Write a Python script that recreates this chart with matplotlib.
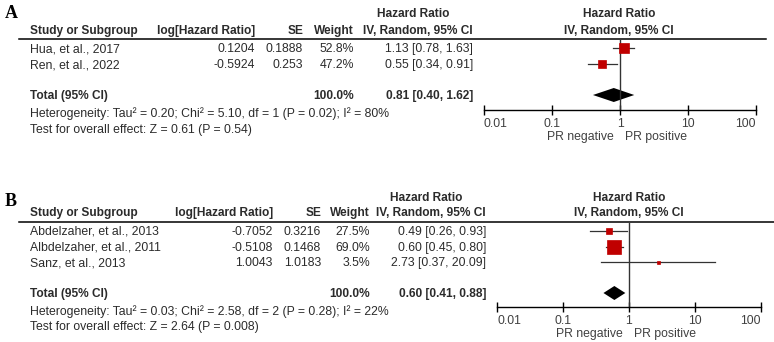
import numpy as np
import matplotlib
matplotlib.use('Agg')
import matplotlib.pyplot as plt

plt.rcParams['font.family'] = ['Liberation Sans', 'DejaVu Sans']

# panel A data
a_study = ['Hua, et al., 2017', 'Ren, et al., 2022']
a_loghr = ['0.1204', '-0.5924']
a_se = ['0.1888', '0.253']
a_weight = [52.8, 47.2]
a_hr = [1.13, 0.55]
a_lo = [0.78, 0.34]
a_hi = [1.63, 0.91]
a_total = [0.81, 0.40, 1.62]
a_het = 'Heterogeneity: Tau\u00b2 = 0.20; Chi\u00b2 = 5.10, df = 1 (P = 0.02); I\u00b2 = 80%'
a_test = 'Test for overall effect: Z = 0.61 (P = 0.54)'

# panel B data
b_study = ['Abdelzaher, et al., 2013', 'Albdelzaher, et al., 2011', 'Sanz, et al., 2013']
b_loghr = ['-0.7052', '-0.5108', '1.0043']
b_se = ['0.3216', '0.1468', '1.0183']
b_weight = [27.5, 69.0, 3.5]
b_hr = [0.49, 0.60, 2.73]
b_lo = [0.26, 0.45, 0.37]
b_hi = [0.93, 0.80, 20.09]
b_total = [0.60, 0.41, 0.88]
b_het = 'Heterogeneity: Tau\u00b2 = 0.03; Chi\u00b2 = 2.58, df = 2 (P = 0.28); I\u00b2 = 22%'
b_test = 'Test for overall effect: Z = 2.64 (P = 0.008)'

ticks = [0.01, 0.1, 1, 10, 100]
tick_labels = ['0.01', '0.1', '1', '10', '100']

W, H = 774, 342
fig = plt.figure(figsize=(W/100, H/100), dpi=100)
bg = fig.add_axes([0, 0, 1, 1])
bg.set_xlim(0, W)
bg.set_ylim(H, 0)
bg.axis('off')

TXT = '#2b2b2b'
FS = 8.85   # regular text
FB = 8.6    # bold headers


def panel(letter, L, study, loghr, se, weight, hr, lo, hi, total, het, test, size_k):
    # letter
    bg.text(5, L['letter'], letter, fontsize=13, fontweight='bold',
            family='Liberation Serif', va='center', ha='left', color='black')
    # headers
    bg.text(L['ci'] - 60, L['h1'], 'Hazard Ratio', ha='center', va='center',
            fontsize=FB, fontweight='bold', color=TXT)
    bg.text(L['fc'], L['h1'], 'Hazard Ratio', ha='center', va='center',
            fontsize=FB, fontweight='bold', color=TXT)
    bg.text(30, L['h2'], 'Study or Subgroup', ha='left', va='center',
            fontsize=FB, fontweight='bold', color=TXT)
    bg.text(L['lhr'], L['h2'], 'log[Hazard Ratio]', ha='right', va='center',
            fontsize=FB, fontweight='bold', color=TXT)
    bg.text(L['se'], L['h2'], 'SE', ha='right', va='center',
            fontsize=FB, fontweight='bold', color=TXT)
    bg.text(L['w'], L['h2'], 'Weight', ha='right', va='center',
            fontsize=FB, fontweight='bold', color=TXT)
    bg.text(L['ci'], L['h2'], 'IV, Random, 95% CI', ha='right', va='center',
            fontsize=FB, fontweight='bold', color=TXT)
    bg.text(L['fc'], L['h2'], 'IV, Random, 95% CI', ha='center', va='center',
            fontsize=FB, fontweight='bold', color=TXT)
    bg.plot([19, L['line_end']], [L['line'], L['line']], color='black', lw=1.1)

    for i in range(len(study)):
        y = L['rows'][i]
        bg.text(30, y, study[i], ha='left', va='center', fontsize=FS, color=TXT)
        bg.text(L['lhr'], y, loghr[i], ha='right', va='center', fontsize=FS, color=TXT)
        bg.text(L['se'], y, se[i], ha='right', va='center', fontsize=FS, color=TXT)
        bg.text(L['w'], y, '%.1f%%' % weight[i], ha='right', va='center', fontsize=FS, color=TXT)
        bg.text(L['ci'], y, '%.2f [%.2f, %.2f]' % (hr[i], lo[i], hi[i]),
                ha='right', va='center', fontsize=FS, color=TXT)

    yt = L['total']
    bg.text(30, yt, 'Total (95% CI)', ha='left', va='center', fontsize=FB,
            fontweight='bold', color=TXT)
    bg.text(L['w'], yt, '100.0%', ha='right', va='center', fontsize=FB,
            fontweight='bold', color=TXT)
    bg.text(L['ci'], yt, '%.2f [%.2f, %.2f]' % tuple(total), ha='right', va='center',
            fontsize=FB, fontweight='bold', color=TXT)
    bg.text(30, L['het'], het, ha='left', va='center', fontsize=FS, color=TXT)
    bg.text(30, L['test'], test, ha='left', va='center', fontsize=FS, color=TXT)

    # forest axes
    x0, x1 = L['fx']
    top, bot = L['line'] + 1, L['axis']
    ax = fig.add_axes([x0 / W, 1 - bot / H, (x1 - x0) / W, (bot - top) / H])
    ax.set_xscale('log')
    ax.set_xlim(0.01, 100)
    ax.set_ylim(bot, top)
    ax.patch.set_alpha(0)
    for s in ['top', 'left', 'right']:
        ax.spines[s].set_visible(False)
    ax.spines['bottom'].set_linewidth(1.0)
    ax.set_yticks([])
    ax.set_xticks(ticks)
    ax.set_xticklabels(tick_labels)
    ax.xaxis.set_minor_locator(matplotlib.ticker.NullLocator())
    ax.tick_params(axis='x', direction='inout', length=7, width=1.0,
                   labelsize=FS, labelcolor='#404040', pad=2)
    labs = ax.get_xticklabels()
    labs[0].set_ha('left')
    labs[-1].set_ha('right')
    ax.axvline(1, color='#333333', lw=1.0)

    wmax = max(weight)
    for i in range(len(study)):
        y = L['rows'][i] - 1.5
        ax.plot([lo[i], hi[i]], [y, y], color='#333333', lw=0.9)
        side = max(3.0, size_k * weight[i] / wmax)
        ax.plot([hr[i]], [y], marker='s', ms=side * 0.72, color='#c00000',
                mec='#c00000', mew=0.5)
    c, l, h = total
    yd = yt - 1
    ax.fill([l, c, h, c], [yd, yd - 7, yd, yd + 7], color='black', lw=0)

    ax.annotate('PR negative', xy=(1, 0), xycoords=('data', 'axes fraction'),
                xytext=(-6, -L['pr']), textcoords='offset pixels',
                ha='right', va='center', fontsize=FS, color='#404040')
    ax.annotate('PR positive', xy=(1, 0), xycoords=('data', 'axes fraction'),
                xytext=(5, -L['pr']), textcoords='offset pixels',
                ha='left', va='center', fontsize=FS, color='#404040')


LA = dict(letter=13, h1=14, h2=31, line=39, line_end=766, rows=[49, 65], total=96,
          het=114, test=130, lhr=255, se=303, w=354, ci=473, fc=619,
          fx=(484, 756), axis=110, pr=27)
LB = dict(letter=201, h1=198, h2=213, line=222, line_end=774, rows=[232, 248, 263],
          total=294, het=312, test=327, lhr=273, se=321, w=370, ci=486, fc=629,
          fx=(497, 761), axis=307, pr=27)

panel('A', LA, a_study, a_loghr, a_se, a_weight, a_hr, a_lo, a_hi, a_total,
      a_het, a_test, 10)
panel('B', LB, b_study, b_loghr, b_se, b_weight, b_hr, b_lo, b_hi, b_total,
      b_het, b_test, 14)

fig.savefig('out.png', dpi=100)
